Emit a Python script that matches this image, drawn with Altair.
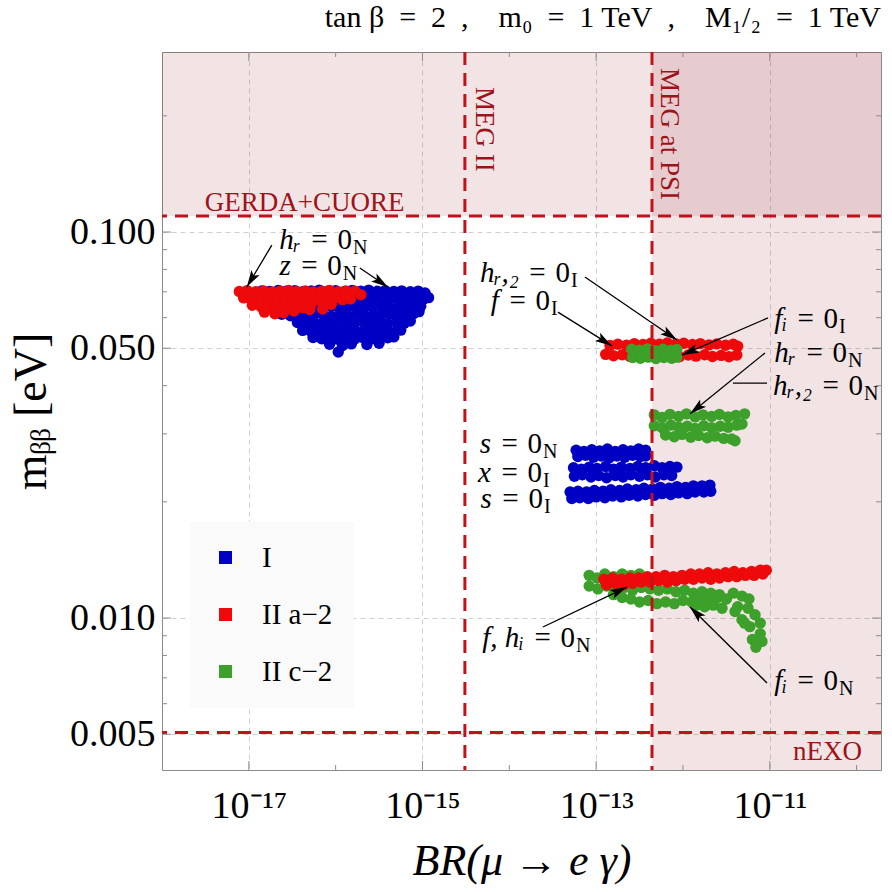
import math
import altair as alt
import pandas as pd

# ---------------- frame / axes ----------------
W, H = 719, 718
X_DOMAIN = [1e-18, 1.91e-10]
Y_DOMAIN = [0.00404, 0.2926]
FONT = "Liberation Serif"

x_tick_values = [1e-17, 1e-15, 1e-13, 1e-11]
x_tick_labels = ["10⁻¹⁷", "10⁻¹⁵", "10⁻¹³", "10⁻¹¹"]
x_minor_values = [1e-16, 1e-14, 1e-12, 1e-10]
y_tick_values = [0.005, 0.01, 0.05, 0.1]
y_minor_values = [0.006, 0.007, 0.008, 0.009, 0.02, 0.03, 0.04, 0.06, 0.07, 0.08, 0.09, 0.2]

series_names = ["I", "II a−2", "II c−2"]
series_colors = ["#0000c4", "#ee0a0a", "#3ca02a"]

# ---------------- experimental limits ----------------
gerda_m = 0.11
nexo_m = 0.00505
meg2_br = 3.08e-15
megpsi_br = 4.4e-13

# ---------------- scatter clouds: log10(BR) and m_bb [eV] ----------------
blue_left_exp = [
    -16.85, -16.76, -16.66, -16.57, -16.47, -16.38, -16.28, -16.19, -16.09, -16.00, -15.90, -15.81, -15.71, -15.62, -15.52, -15.43, -15.33, -15.24, -15.14, -15.05, -14.97,
    -16.90, -16.80, -16.70, -16.61, -16.51, -16.42, -16.32, -16.23, -16.13, -16.04, -15.94, -15.85, -15.75, -15.66, -15.56, -15.47, -15.37, -15.28, -15.18, -15.09, -14.99, -14.93,
    -16.72, -16.62, -16.53, -16.43, -16.34, -16.24, -16.15, -16.05, -15.96, -15.86, -15.77, -15.67, -15.58, -15.48, -15.39, -15.29, -15.20, -15.10, -15.02,
    -16.62, -16.52, -16.43, -16.33, -16.24, -16.14, -16.05, -15.95, -15.86, -15.76, -15.67, -15.57, -15.48, -15.38, -15.29, -15.19, -15.10, -15.04,
    -16.44, -16.35, -16.25, -16.16, -16.06, -15.97, -15.87, -15.78, -15.68, -15.59, -15.49, -15.40, -15.30, -15.21, -15.14,
    -16.38, -16.28, -16.19, -16.09, -16.00, -15.90, -15.81, -15.71, -15.62, -15.52, -15.43, -15.33, -15.25,
    -16.26, -16.16, -16.07, -15.97, -15.88, -15.78, -15.69, -15.59, -15.50, -15.40, -15.33,
    -16.07, -15.92, -15.82, -15.64, -15.50, -15.97,
]
blue_left_m = [
    0.0704, 0.0701, 0.0706, 0.0702, 0.0705, 0.0700, 0.0704, 0.0707, 0.0702, 0.0705, 0.0701, 0.0706, 0.0703, 0.0707, 0.0702, 0.0705, 0.0701, 0.0704, 0.0700, 0.0703, 0.0695,
    0.0672, 0.0668, 0.0674, 0.0670, 0.0667, 0.0673, 0.0669, 0.0671, 0.0666, 0.0674, 0.0670, 0.0667, 0.0672, 0.0668, 0.0673, 0.0669, 0.0672, 0.0667, 0.0671, 0.0668, 0.0670, 0.0676,
    0.0641, 0.0637, 0.0642, 0.0636, 0.0640, 0.0644, 0.0638, 0.0641, 0.0636, 0.0640, 0.0643, 0.0637, 0.0641, 0.0638, 0.0642, 0.0636, 0.0640, 0.0638, 0.0642,
    0.0612, 0.0607, 0.0611, 0.0606, 0.0613, 0.0609, 0.0605, 0.0611, 0.0608, 0.0612, 0.0606, 0.0610, 0.0607, 0.0613, 0.0608, 0.0611, 0.0615, 0.0622,
    0.0583, 0.0579, 0.0584, 0.0578, 0.0582, 0.0577, 0.0583, 0.0580, 0.0585, 0.0578, 0.0582, 0.0579, 0.0584, 0.0580, 0.0588,
    0.0556, 0.0552, 0.0557, 0.0550, 0.0555, 0.0549, 0.0554, 0.0551, 0.0556, 0.0550, 0.0553, 0.0549, 0.0557,
    0.0533, 0.0529, 0.0534, 0.0527, 0.0532, 0.0528, 0.0533, 0.0529, 0.0526, 0.0532, 0.0535,
    0.0512, 0.0508, 0.0513, 0.0511, 0.0515, 0.0489,
]

blue_sN_exp = [-13.23, -13.14, -13.05, -12.96, -12.87, -12.78, -12.69, -12.60, -12.51, -12.43,
               -13.21, -13.12, -13.03, -12.94, -12.85, -12.76, -12.67, -12.58, -12.49, -12.43]
blue_sN_m = [0.0272, 0.0270, 0.0273, 0.0271, 0.0274, 0.0270, 0.0273, 0.0271, 0.0274, 0.0272,
             0.0262, 0.0264, 0.0261, 0.0263, 0.0260, 0.0263, 0.0261, 0.0264, 0.0262, 0.0263]

blue_xI_exp = [-13.26, -13.17, -13.08, -12.99, -12.89, -12.80, -12.71, -12.61, -12.52, -12.43, -12.33, -12.24, -12.15, -12.07,
               -13.25, -13.16, -13.06, -12.97, -12.88, -12.78, -12.69, -12.60, -12.50, -12.41, -12.32, -12.22, -12.13]
blue_xI_m = [0.0245, 0.0243, 0.0246, 0.0244, 0.0247, 0.0243, 0.0246, 0.0244, 0.0247, 0.0245, 0.0248, 0.0245, 0.0247, 0.0246,
             0.0233, 0.0235, 0.0232, 0.0234, 0.0231, 0.0234, 0.0232, 0.0235, 0.0233, 0.0235, 0.0232, 0.0235, 0.0234]

blue_sI_exp = [-13.30, -13.21, -13.11, -13.02, -12.92, -12.83, -12.73, -12.64, -12.54, -12.45, -12.35, -12.26, -12.16, -12.07, -11.97, -11.88, -11.78, -11.69,
               -13.28, -13.19, -13.09, -13.00, -12.90, -12.81, -12.71, -12.62, -12.52, -12.43, -12.33, -12.24, -12.14, -12.05, -11.95, -11.86, -11.76, -11.68]
blue_sI_m = [0.0212, 0.0213, 0.0212, 0.0214, 0.0213, 0.0215, 0.0214, 0.0216, 0.0215, 0.0217, 0.0216, 0.0218, 0.0217, 0.0219, 0.0218, 0.0220, 0.0220, 0.0221,
             0.0204, 0.0205, 0.0204, 0.0206, 0.0205, 0.0207, 0.0206, 0.0208, 0.0207, 0.0209, 0.0208, 0.0210, 0.0209, 0.0211, 0.0210, 0.0212, 0.0212, 0.0213]

red_left_exp = [
    -17.11, -17.02, -16.92, -16.83, -16.73, -16.64, -16.54, -16.45, -16.35, -16.26, -16.16, -16.07, -15.97, -15.88, -15.78,
    -17.06, -16.97, -16.87, -16.78, -16.68, -16.59, -16.49, -16.40, -16.30, -16.21, -16.11, -16.02, -15.92, -15.83, -15.71,
    -16.96, -16.86, -16.77, -16.67, -16.58, -16.48, -16.38, -16.29, -16.14, -16.05,
    -16.82, -16.70, -16.60, -16.48, -16.30, -16.15,
]
red_left_m = [
    0.0701, 0.0705, 0.0700, 0.0704, 0.0699, 0.0703, 0.0706, 0.0701, 0.0704, 0.0699, 0.0703, 0.0706, 0.0700, 0.0704, 0.0702,
    0.0675, 0.0669, 0.0673, 0.0667, 0.0671, 0.0666, 0.0672, 0.0668, 0.0673, 0.0667, 0.0670, 0.0674, 0.0668, 0.0671, 0.0688,
    0.0646, 0.0640, 0.0644, 0.0639, 0.0645, 0.0641, 0.0637, 0.0643, 0.0646, 0.0650,
    0.0620, 0.0614, 0.0618, 0.0624, 0.0630, 0.0632,
]

green_low_exp = [
    -13.08, -12.99, -12.90, -12.80, -12.70, -12.60, -12.50,
    -13.08, -12.98, -12.88, -12.78, -12.68, -12.58, -12.48, -12.38, -12.28, -12.18, -12.08, -11.98, -11.88, -11.78, -11.68, -11.58,
    -12.80, -12.70, -12.60, -12.50, -12.40, -12.30, -12.20, -12.10, -12.00, -11.90, -11.80, -11.70, -11.60, -11.50, -11.42, -11.32, -11.24,
    -11.85, -11.75, -11.65, -11.55,
    -11.40, -11.32, -11.37, -11.25, -11.17, -11.11, -11.23, -11.11, -11.20, -11.09, -11.16, -11.29,
]
green_low_m = [
    0.0129, 0.0127, 0.0130, 0.0128, 0.0130, 0.0129, 0.0130,
    0.0121, 0.0119, 0.0121, 0.0119, 0.0120, 0.0118, 0.0120, 0.0119, 0.0118, 0.0119, 0.0117, 0.0118, 0.0116, 0.0117, 0.0116, 0.0115,
    0.0115, 0.0113, 0.0112, 0.0110, 0.0111, 0.0109, 0.0110, 0.0109, 0.0111, 0.0110, 0.0112, 0.0111, 0.0113, 0.0112, 0.0116, 0.0114, 0.0112,
    0.0108, 0.0107, 0.0108, 0.0106,
    0.0104, 0.0099, 0.0107, 0.0106, 0.0102, 0.0097, 0.0095, 0.0091, 0.0088, 0.0087, 0.0084, 0.0097,
]

red_low_exp = [
    -12.91, -12.81, -12.71, -12.61, -12.51, -12.41, -12.31, -12.21, -12.11, -12.01, -11.91, -11.81, -11.71, -11.61, -11.51, -11.41, -11.31, -11.21, -11.11, -11.04,
    -12.88, -12.78, -12.68, -12.58, -12.48, -12.38, -12.28, -12.18, -12.08, -11.98, -11.88, -11.78, -11.68, -11.58, -11.48, -11.38, -11.28, -11.18, -11.08,
]
red_low_m = [
    0.0126, 0.0127, 0.0126, 0.0127, 0.0127, 0.0128, 0.0128, 0.0129, 0.0128, 0.0129, 0.0130, 0.0130, 0.0131, 0.0130, 0.0131, 0.0132, 0.0131, 0.0132, 0.0133, 0.0133,
    0.0122, 0.0123, 0.0122, 0.0123, 0.0124, 0.0124, 0.0125, 0.0124, 0.0125, 0.0126, 0.0126, 0.0127, 0.0126, 0.0127, 0.0128, 0.0128, 0.0129, 0.0129, 0.0130,
]

red_mid_exp = [
    -12.84, -12.75, -12.65, -12.56, -12.46, -12.37, -12.27, -12.18, -12.08, -11.99, -11.89, -11.80, -11.70, -11.61, -11.51, -11.42, -11.37,
    -12.89, -12.80, -12.70, -12.61, -12.51, -12.42, -12.32, -12.23, -12.13, -12.04, -11.94, -11.85, -11.75, -11.66, -11.56, -11.47, -11.38,
]
red_mid_m = [
    0.0508, 0.0512, 0.0509, 0.0514, 0.0511, 0.0515, 0.0512, 0.0516, 0.0513, 0.0515, 0.0511, 0.0514, 0.0510, 0.0513, 0.0509, 0.0512, 0.0506,
    0.0482, 0.0478, 0.0481, 0.0476, 0.0480, 0.0477, 0.0481, 0.0476, 0.0479, 0.0475, 0.0480, 0.0477, 0.0481, 0.0476, 0.0479, 0.0475, 0.0480,
]

green_mid_exp = [-12.59, -12.50, -12.41, -12.32, -12.23, -12.14, -12.07,
                 -12.58, -12.49, -12.40, -12.31, -12.22, -12.13, -12.07]
green_mid_m = [0.0497, 0.0494, 0.0498, 0.0493, 0.0497, 0.0494, 0.0496,
               0.0473, 0.0471, 0.0474, 0.0470, 0.0473, 0.0471, 0.0474]

green_blob_exp = [
    -12.33, -12.24, -12.15, -12.05, -11.96, -11.86, -11.77, -11.67, -11.58, -11.48, -11.39, -11.29,
    -12.33, -12.24, -12.14, -12.05, -11.95, -11.86, -11.76, -11.67, -11.57, -11.48, -11.38, -11.32,
    -12.20, -12.10, -12.01, -11.91, -11.82, -11.72, -11.63, -11.53, -11.44, -11.40,
]
green_blob_m = [
    0.0336, 0.0331, 0.0337, 0.0333, 0.0338, 0.0332, 0.0336, 0.0333, 0.0337, 0.0332, 0.0335, 0.0338,
    0.0315, 0.0311, 0.0316, 0.0312, 0.0314, 0.0310, 0.0315, 0.0311, 0.0314, 0.0312, 0.0316, 0.0318,
    0.0298, 0.0295, 0.0299, 0.0294, 0.0297, 0.0293, 0.0296, 0.0292, 0.0291, 0.0288,
]

# ---------------- annotations ----------------
ann_exp = [-15.813, -15.929, -13.302, -13.532, -10.214, -10.111, -9.926, -13.624, -13.624, -13.613, -13.244, -10.214]
ann_m = [0.0904, 0.0774, 0.0742, 0.0628, 0.0564, 0.0460, 0.0378, 0.0268, 0.0225, 0.0193, 0.00841, 0.00651]
ann_var = ["hᵣ", "z", "hᵣ,₂", "f", "fᵢ", "hᵣ", "hᵣ,₂", "s", "x", "s", "f, hᵢ", "fᵢ"]
ann_sub = ["N", "N", "I", "I", "I", "N", "N", "N", "I", "I", "N", "N"]

arrow_start_exp = [-16.735, -15.721, -13.129, -13.440, -11.021, -11.055, -13.613, -11.032]
arrow_start_m = [0.0925, 0.0807, 0.0765, 0.0620, 0.0599, 0.0486, 0.00948, 0.00679]
arrow_tip_exp = [-17.023, -15.399, -12.069, -12.818, -12.012, -11.919, -12.645, -11.919]
arrow_tip_m = [0.0720, 0.0720, 0.0525, 0.0507, 0.0480, 0.0338, 0.01203, 0.01068]

plain_line_exp = [-11.032, -11.424]
plain_line_m = [0.0406, 0.0406]

limit_labels = ["GERDA+CUORE", "MEG II", "MEG at PSI", "nEXO"]
limit_label_exp = [-17.507, -14.385, -12.253, -9.938]
limit_label_m = [0.1133, 0.2375, 0.266, 0.00429]

TITLE = "tan β\u2002=\u20022\u2002,\u2003m₀\u2002=\u20021 TeV\u2002,\u2003M₁/₂\u2002=\u20021 TeV"

# ---------------- build tables ----------------
def cluster(exps, ms, name):
    assert len(exps) == len(ms), name
    return [{"br": 10 ** e, "m": m, "series": name} for e, m in zip(exps, ms)]

rows = []
rows += cluster(blue_left_exp, blue_left_m, "I")
rows += cluster(blue_sN_exp, blue_sN_m, "I")
rows += cluster(blue_xI_exp, blue_xI_m, "I")
rows += cluster(blue_sI_exp, blue_sI_m, "I")
rows += cluster(red_left_exp, red_left_m, "II a−2")
rows += cluster(green_low_exp, green_low_m, "II c−2")
rows += cluster(red_low_exp, red_low_m, "II a−2")
rows += cluster(red_mid_exp, red_mid_m, "II a−2")
rows += cluster(green_mid_exp, green_mid_m, "II c−2")
rows += cluster(green_blob_exp, green_blob_m, "II c−2")
points = pd.DataFrame(rows)

xs = alt.Scale(type="log", domain=X_DOMAIN, nice=False)
ys = alt.Scale(type="log", domain=Y_DOMAIN, nice=False)

px_per_dec_x = W / (math.log10(X_DOMAIN[1]) - math.log10(X_DOMAIN[0]))
px_per_dec_y = H / (math.log10(Y_DOMAIN[1]) - math.log10(Y_DOMAIN[0]))

arrows = []
for e1, m1, e2, m2 in zip(arrow_start_exp, arrow_start_m, arrow_tip_exp, arrow_tip_m):
    dx = (e2 - e1) * px_per_dec_x
    dy = -(math.log10(m2) - math.log10(m1)) * px_per_dec_y
    ang = math.degrees(math.atan2(dx, -dy)) % 360
    arrows.append({"x1": 10 ** e1, "y1": m1, "x2": 10 ** e2, "y2": m2, "ang": ang})
arrows = pd.DataFrame(arrows)
plain = pd.DataFrame({"x1": [10 ** plain_line_exp[0]], "x2": [10 ** plain_line_exp[1]],
                      "y1": [plain_line_m[0]], "y2": [plain_line_m[1]]})

ann = pd.DataFrame({"br": [10 ** e for e in ann_exp], "m": ann_m, "var": ann_var, "sub": ann_sub})
lim_txt = pd.DataFrame({"br": [10 ** e for e in limit_label_exp], "m": limit_label_m, "t": limit_labels})

# ---------------- axes (identical in every layer so they merge) ----------------
label_expr = " : ".join(
    f"abs(log(datum.value)/LN10 - ({round(math.log10(v))})) < 0.01 ? '{lab}'"
    for v, lab in zip(x_tick_values, x_tick_labels)
) + " : ''"

x_axis = alt.Axis(values=x_tick_values, labelExpr=label_expr, labelFont=FONT, labelFontSize=38,
                  labelColor="black", labelPadding=17, ticks=False, domain=False, grid=True,
                  gridColor="#cfcfcf", gridDash=[5, 4], gridWidth=1, labelFlush=False, labelOverlap=False,
                  title="BR(μ → e γ)", titleFont=FONT, titleFontSize=44, titleFontStyle="italic",
                  titleFontWeight="normal", titleColor="black", titlePadding=14)
y_axis = alt.Axis(values=y_tick_values, format=".3f", labelFont=FONT, labelFontSize=38,
                  labelColor="black", labelPadding=7, ticks=False, domain=False, grid=True,
                  gridColor="#cfcfcf", gridDash=[5, 4], gridWidth=1, labelFlush=False, labelOverlap=False,
                  title="mᵦᵦ [eV]", titleFont=FONT, titleFontSize=46, titleFontWeight="normal",
                  titleColor="black", titlePadding=14)


def X(field):
    return alt.X(field, type="quantitative", scale=xs, axis=x_axis)


def Y(field):
    return alt.Y(field, type="quantitative", scale=ys, axis=y_axis)


# ---------------- layers ----------------
shade_df = pd.DataFrame({"x": [X_DOMAIN[0], megpsi_br], "x2": [X_DOMAIN[1], X_DOMAIN[1]],
                         "y": [gerda_m, Y_DOMAIN[0]], "y2": [Y_DOMAIN[1], Y_DOMAIN[1]]})
shades = alt.Chart(shade_df).mark_rect(color="#962832", opacity=0.124).encode(
    x=X("x"), x2="x2:Q", y=Y("y"), y2="y2:Q")

LIMIT_COLOR = "#c1121b"
LABEL_COLOR = "#9e1219"
hlines = alt.Chart(pd.DataFrame({"m": [gerda_m, nexo_m]})).mark_rule(
    color=LIMIT_COLOR, strokeWidth=3, strokeDash=[13, 8]).encode(y=Y("m"))
vlines = alt.Chart(pd.DataFrame({"br": [meg2_br, megpsi_br]})).mark_rule(
    color=LIMIT_COLOR, strokeWidth=3, strokeDash=[13, 8]).encode(x=X("br"))


def lim_layer(names, **mark_kw):
    d = lim_txt[lim_txt["t"].isin(names)]
    return alt.Chart(d).mark_text(font=FONT, fontSize=27, color=LABEL_COLOR, baseline="alphabetic",
                                  **mark_kw).encode(x=X("br"), y=Y("m"), text="t:N")


gerda_txt = lim_layer(["GERDA+CUORE"], align="left")
meg_txt = lim_layer(["MEG II", "MEG at PSI"], align="left", angle=90)
nexo_txt = lim_layer(["nEXO"], align="right")

pts = alt.Chart(points).mark_circle(size=130, opacity=1).encode(
    x=X("br"), y=Y("m"),
    color=alt.Color("series:N", scale=alt.Scale(domain=series_names, range=series_colors),
                    legend=alt.Legend(title=None, orient="none", legendX=28, legendY=470,
                                      symbolType="square", symbolSize=169, symbolStrokeWidth=0,
                                      symbolOpacity=1, labelFont=FONT, labelFontSize=29,
                                      labelColor="black", labelOffset=22, rowPadding=27,
                                      padding=21, fillColor="#fafafa")),
)

arrow_lines = alt.Chart(arrows).mark_rule(color="black", strokeWidth=1.3).encode(
    x=X("x1"), x2="x2:Q", y=Y("y1"), y2="y2:Q")
plain_lines = alt.Chart(plain).mark_rule(color="black", strokeWidth=1.3).encode(
    x=X("x1"), x2="x2:Q", y=Y("y1"), y2="y2:Q")
heads = alt.Chart(arrows).mark_point(
    shape="M0,0 L0.28,1 L0,0.78 L-0.28,1 Z", size=1156, filled=True, color="black",
    opacity=1, strokeWidth=0).encode(
    x=X("x2"), y=Y("y2"), angle=alt.Angle("ang:Q", scale=None))

ann_var_l = alt.Chart(ann).mark_text(align="right", baseline="alphabetic", dx=-51, font=FONT,
                                     fontSize=29, fontStyle="italic", color="black").encode(
    x=X("br"), y=Y("m"), text="var:N")
ann_eq_l = alt.Chart(ann).mark_text(align="right", baseline="alphabetic", font=FONT,
                                    fontSize=29, color="black").encode(
    x=X("br"), y=Y("m"), text=alt.value("=\u20040"))
ann_sub_l = alt.Chart(ann).mark_text(align="left", baseline="alphabetic", dx=1, dy=5, font=FONT,
                                     fontSize=20, color="black").encode(
    x=X("br"), y=Y("m"), text="sub:N")

TICK_COLOR = "#8c8c8c"


def tick_layer(values, channel, side, length):
    df = pd.DataFrame({"v": values})
    if channel == "x":
        enc = dict(x=X("v"))
        if side == "bottom":
            enc.update(y=alt.value(H), y2=alt.value(H - length))
        else:
            enc.update(y=alt.value(0), y2=alt.value(length))
    else:
        enc = dict(y=Y("v"))
        if side == "left":
            enc.update(x=alt.value(0), x2=alt.value(length))
        else:
            enc.update(x=alt.value(W), x2=alt.value(W - length))
    return alt.Chart(df).mark_rule(color=TICK_COLOR, strokeWidth=1).encode(**enc)


ticks = [
    tick_layer(x_tick_values, "x", "bottom", 9), tick_layer(x_minor_values, "x", "bottom", 5),
    tick_layer(x_tick_values, "x", "top", 9), tick_layer(x_minor_values, "x", "top", 5),
    tick_layer(y_tick_values, "y", "left", 9), tick_layer(y_minor_values, "y", "left", 5),
    tick_layer(y_tick_values, "y", "right", 9), tick_layer(y_minor_values, "y", "right", 5),
]

chart = alt.layer(
    shades, pts, hlines, vlines, gerda_txt, meg_txt, nexo_txt,
    arrow_lines, plain_lines, heads, ann_var_l, ann_eq_l, ann_sub_l, *ticks
).properties(
    width=W, height=H,
    autosize=alt.AutoSizeParams(type="none"),
    padding={"left": 162, "top": 52, "right": 11, "bottom": 122},
    title=alt.TitleParams(TITLE, anchor="end", frame="group", font=FONT, fontSize=30,
                          fontWeight="normal", color="black", baseline="alphabetic",
                          offset=25, dy=31),
).configure_view(stroke="#8a8a8a", strokeWidth=1)

chart.save("out.html", embed_options={"renderer": "svg", "actions": False})
